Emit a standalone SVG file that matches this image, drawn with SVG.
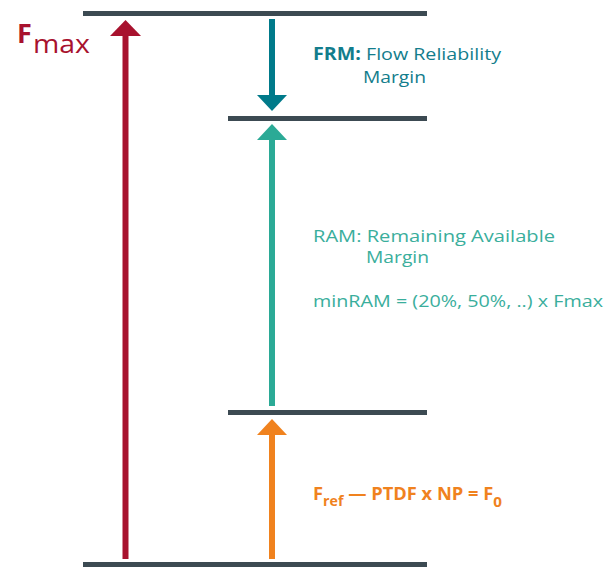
<svg xmlns="http://www.w3.org/2000/svg" width="604" height="567" viewBox="0 0 604 567">
<style>
.lvl{stroke:#3c4a52;stroke-width:5;fill:none}
.t{font-family:"Open Sans","Liberation Sans",sans-serif}
.b{font-weight:bold}
</style>
<rect width="604" height="567" fill="#fff"/>
<g id="levels">
<line class="lvl" x1="83" y1="13.5" x2="427" y2="13.5"/>
<line class="lvl" x1="228" y1="118.5" x2="427" y2="118.5"/>
<line class="lvl" x1="228" y1="412.5" x2="427" y2="412.5"/>
<line class="lvl" x1="83" y1="564.5" x2="427" y2="564.5"/>
</g>
<g id="connectors">
<g id="fmax-arrow" fill="#a8122e">
<rect x="122.5" y="34" width="6" height="525"/>
<polygon points="110,36 141,36 125.5,20"/>
</g>
<g id="frm-arrow" fill="#007a8a">
<rect x="269" y="19" width="6" height="78"/>
<polygon points="257,95 287,95 272,111"/>
</g>
<g id="ram-arrow" fill="#2baa96">
<rect x="269" y="138" width="6" height="268"/>
<polygon points="257,140 287,140 272,124"/>
</g>
<g id="f0-arrow" fill="#f0821e">
<rect x="269" y="433" width="6" height="126"/>
<polygon points="257,435 287,435 272,419"/>
</g>
</g>
<g id="fmax-label" class="t" fill="#a8122e">
<text x="17" y="43" font-size="27" class="b">F</text>
<text x="33" y="53" font-size="25" textLength="57" lengthAdjust="spacingAndGlyphs">max</text>
</g>
<g id="frm-label" class="t" fill="#137d8c" font-size="17">
<text x="313" y="60" textLength="188" lengthAdjust="spacingAndGlyphs"><tspan class="b">FRM:</tspan> Flow Reliability</text>
<text x="363" y="83" textLength="63" lengthAdjust="spacingAndGlyphs">Margin</text>
</g>
<g id="ram-label" class="t" fill="#3aae9c" font-size="16.5">
<text x="313" y="242" textLength="242" lengthAdjust="spacingAndGlyphs">RAM: Remaining Available</text>
<text x="366" y="263" textLength="63" lengthAdjust="spacingAndGlyphs">Margin</text>
<text x="313" y="307" textLength="290" lengthAdjust="spacingAndGlyphs">minRAM = (20%, 50%, ..) x Fmax</text>
</g>
<g id="f0-label" class="t b" fill="#f0821e">
<text x="313" y="500" font-size="18" textLength="189" lengthAdjust="spacingAndGlyphs">F<tspan font-size="14" dy="6">ref</tspan><tspan dy="-6"> — PTDF x NP = F</tspan><tspan font-size="15" dy="7">0</tspan></text>
</g>
</svg>
